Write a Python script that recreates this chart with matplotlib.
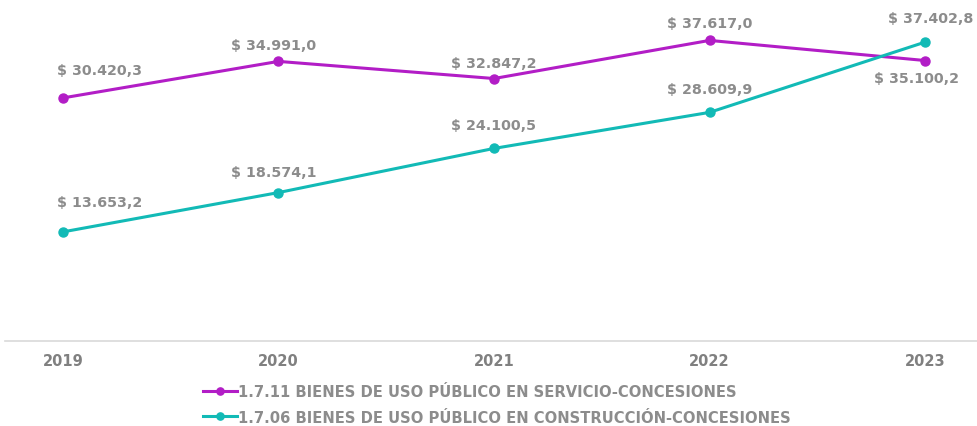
import matplotlib.pyplot as plt

# datos
years = ["2019", "2020", "2021", "2022", "2023"]
servicio = [30420.3, 34991.0, 32847.2, 37617.0, 35100.2]
construccion = [13653.2, 18574.1, 24100.5, 28609.9, 37402.8]
label_servicio = "1.7.11 BIENES DE USO PÚBLICO EN SERVICIO-CONCESIONES"
label_construccion = "1.7.06 BIENES DE USO PÚBLICO EN CONSTRUCCIÓN-CONCESIONES"

MAGENTA = "#B21DC6"
TEAL = "#12BAB6"
GRAY = "#8C8C8C"

# desplazamiento de las etiquetas (pixeles)
off_servicio = [(37, 28), (-5, 16), (0, 16), (0, 17), (-9, -17)]
off_construccion = [(37, 30), (-5, 21), (0, 23), (0, 23), (6, 24)]


def fmt(v):
    s = f"{v:,.1f}"
    return "$ " + s.replace(",", "X").replace(".", ",").replace("X", ".")


def main():
    fig = plt.figure(figsize=(9.77, 4.27), dpi=100)
    ax = fig.add_axes([0, 0, 1, 1])
    x = list(range(len(years)))

    ax.plot(x, servicio, color=MAGENTA, lw=2.2, marker="o", ms=6.5,
            label=label_servicio, zorder=3)
    ax.plot(x, construccion, color=TEAL, lw=2.2, marker="o", ms=6.5,
            label=label_construccion, zorder=3)

    ax.set_xlim(-0.292, 4.241)
    ax.set_ylim(-10640, 42800)
    ax.axis("off")
    ax.axhline(0, xmin=0.005, xmax=1, color="#D9D9D9", lw=1.2, zorder=1)

    # etiquetas de los años
    for i, y in enumerate(years):
        ax.annotate(y, (i, 0), xytext=(0, -14), textcoords="offset points",
                    ha="center", va="center", fontsize=10.5, fontweight="bold",
                    color="#808080")

    # etiquetas de datos
    kw = dict(textcoords="offset points", va="center", ha="center",
              fontsize=10.3, fontweight="bold", color=GRAY)
    for vals, offs in ((servicio, off_servicio), (construccion, off_construccion)):
        for i, v in enumerate(vals):
            dx, dy = offs[i]
            ax.annotate(fmt(v), (i, v), xytext=(dx * 0.72, dy * 0.72), **kw)

    ax.legend(loc="upper left", bbox_to_anchor=(203 / 977, 1 - 385 / 427),
              frameon=False, handlelength=2.3, markerscale=0.8,
              handletextpad=0.1, labelspacing=0.72, borderpad=0,
              borderaxespad=0, labelcolor=GRAY,
              prop={"weight": "bold", "size": 10.6})

    fig.savefig("out.png", dpi=100)


if __name__ == "__main__":
    main()
